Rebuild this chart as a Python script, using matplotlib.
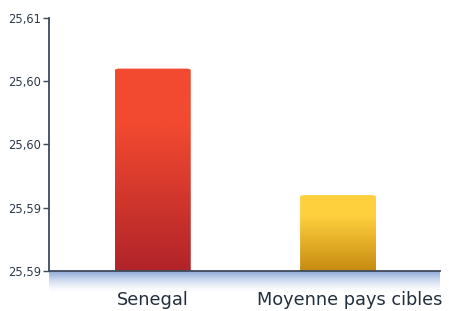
import numpy as np
import matplotlib
matplotlib.use("Agg")
from matplotlib import pyplot as plt
from matplotlib.patches import FancyBboxPatch
from matplotlib.colors import LinearSegmentedColormap
import matplotlib.ticker as mticker

# Data
categories = ["Senegal", "Moyenne pays cibles"]
values = [25.6035, 25.5935]
tick_values = [25.5875, 25.5925, 25.5975, 25.6025, 25.6075]
tick_labels = ["25,59", "25,59", "25,60", "25,60", "25,61"]

# Gradient colours (top, bottom) for each bar
grad_colors = [("#f24a30", "#ac2129"), ("#ffd03e", "#c2860e")]

fig = plt.figure(figsize=(4.49, 3.11), dpi=100)
ax = fig.add_axes([49 / 449, 1 - 271 / 311, 391 / 449, 253 / 311])

ymin, ymax = tick_values[0], tick_values[-1]
xmin, xmax = -0.56, 1.55

width = 0.41
x = np.arange(len(categories))
bars = ax.bar(x, [v - ymin for v in values], width, bottom=ymin, color="none")

# Gradient fill with rounded top corners
for b, (top, bot) in zip(bars, grad_colors):
    x0, y0 = b.get_x(), b.get_y()
    w, h = b.get_width(), b.get_height()
    cmap = LinearSegmentedColormap.from_list("g", [bot, top])
    # colour stays flat in the top part
    grad = np.clip(np.linspace(0, 1, 256) * 1.35, 0, 1).reshape(-1, 1)
    im = ax.imshow(grad, cmap=cmap, aspect="auto", origin="lower",
                   extent=[x0, x0 + w, y0 - h * 0.05, y0 + h], zorder=2)
    patch = FancyBboxPatch((x0, y0 - h * 0.05), w, h * 1.05,
                           boxstyle="round,pad=0,rounding_size=0.025",
                           mutation_aspect=(ymax - ymin) / 2.11 * 253 / 391,
                           facecolor="none", edgecolor="none", transform=ax.transData)
    ax.add_patch(patch)
    im.set_clip_path(patch)

# Soft blue shadow under the x axis
shade = np.linspace(1, 0, 64).reshape(-1, 1) ** 0.8
shade_cmap = LinearSegmentedColormap.from_list(
    "s", [(1, 1, 1, 0), (0.55, 0.66, 0.85, 1)])
ax.imshow(shade, cmap=shade_cmap, aspect="auto", extent=[xmin, xmax, ymin - 0.0017, ymin],
          origin="upper", clip_on=False, zorder=1)
ax.set_ylim(ymin, ymax)
ax.set_xlim(xmin, xmax)

ax.spines["top"].set_visible(False)
ax.spines["right"].set_visible(False)
ax.spines["left"].set_color("#3d4a5a")
ax.spines["bottom"].set_color("#3d4a5a")
ax.spines["left"].set_linewidth(1.3)
ax.spines["bottom"].set_linewidth(1.3)
ax.spines["bottom"].set_zorder(3)

ax.yaxis.set_major_locator(mticker.FixedLocator(tick_values))
ax.set_yticklabels(tick_labels, fontsize=8.3, color="#2e3a48")
ax.tick_params(axis="y", length=4, width=1, color="#3d4a5a", pad=1.5)

ax.set_xticks(x)
ax.set_xticklabels([])
ax.tick_params(axis="x", length=0)
label_x = [0, 1.065]
for lx, lab in zip(label_x, categories):
    ax.text(lx, ymin - 0.00155, lab, ha="center", va="top", fontsize=12.8,
            color="#22303e", family="DejaVu Sans")

fig.savefig("out.png", dpi=100)
